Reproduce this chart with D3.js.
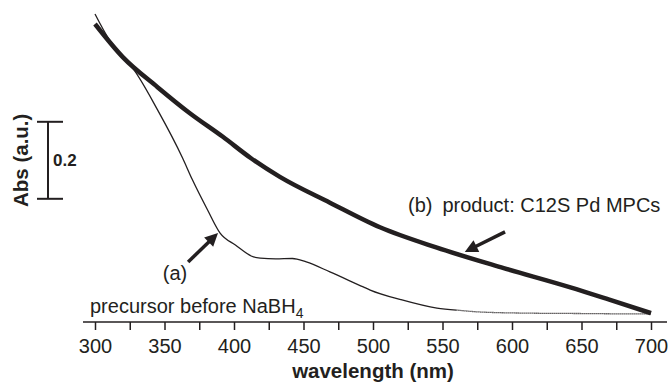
<!DOCTYPE html>
<html lang="en">
<head>
<meta charset="UTF-8">
<title>Abs spectra</title>
<script src="https://d3js.org/d3.v7.min.js"></script>
<style>
  body { margin: 0; background: #fff; }
  svg text { font-family: "Liberation Sans", Arial, Helvetica, sans-serif; fill: #231f20; }
</style>
</head>
<body>
<div id="chart"></div>
<script>
// (a) precursor before NaBH4 - thin trace
var waveA = [300, 310, 320, 327, 345, 363, 370, 381, 390, 401, 414, 419, 430, 442, 452, 469, 493, 498, 520, 546, 560, 577, 611, 650, 690, 700];
var absA  = [0.800, 0.735, 0.690, 0.660, 0.551, 0.426, 0.370, 0.291, 0.231, 0.200, 0.169, 0.166, 0.164, 0.165, 0.156, 0.130, 0.091, 0.083, 0.058, 0.036, 0.031, 0.026, 0.023, 0.022, 0.021, 0.021];
// (b) product C12S Pd MPCs - thick trace
var waveB = [300, 320, 345, 368, 392, 412, 433, 469, 505, 546, 594, 642, 670, 700];
var absB  = [0.774, 0.688, 0.610, 0.543, 0.481, 0.426, 0.377, 0.310, 0.246, 0.193, 0.140, 0.090, 0.058, 0.023];
var xTicks = [300, 325, 350, 375, 400, 425, 450, 475, 500, 525, 550, 575, 600, 625, 650, 675, 700];
var scaleBar = [0.32, 0.52];   // 0.2 a.u.
var dottedFrom = 560;          // thin trace looks dotted past here

var w = 670, h = 384;
var ink = '#231f20';

var svg = d3.select('#chart').append('svg')
    .attr('width', w)
    .attr('height', h);

var x = d3.scaleLinear().domain([300, 700]).range([95, 651]);
var y = d3.scaleLinear().domain([0, 0.8]).range([322, 14]);

// x axis
var xAxis = svg.append('g')
    .attr('transform', 'translate(0,' + y(0) + ')')
    .call(d3.axisBottom(x)
        .tickValues(xTicks)
        .tickFormat(function (d) { return d % 50 === 0 ? d : ''; })
        .tickSize(8)
        .tickPadding(9));
xAxis.select('.domain').remove();
xAxis.selectAll('.tick line').attr('stroke', ink).attr('stroke-width', 1.5);
xAxis.selectAll('.tick text')
    .attr('font-size', 20)
    .attr('font-family', '"Liberation Sans", Arial, sans-serif')
    .attr('fill', ink);
svg.append('line')
    .attr('x1', x.range()[0] - 12).attr('x2', x.range()[1] + 16)
    .attr('y1', y(0)).attr('y2', y(0))
    .attr('stroke', ink).attr('stroke-width', 1.5);

svg.append('text')
    .attr('x', (x.range()[0] + x.range()[1]) / 2)
    .attr('y', 378)
    .attr('text-anchor', 'middle')
    .attr('font-size', 20.5)
    .attr('font-weight', 'bold')
    .text('wavelength (nm)');

// y label + scale bar
svg.append('text')
    .attr('transform', 'translate(28,' + y(0.42) + ') rotate(-90)')
    .attr('text-anchor', 'middle')
    .attr('font-size', 20.5)
    .attr('font-weight', 'bold')
    .text('Abs (a.u.)');

var barX = 48;
svg.append('line')
    .attr('x1', barX).attr('x2', barX)
    .attr('y1', y(scaleBar[0])).attr('y2', y(scaleBar[1]))
    .attr('stroke', ink).attr('stroke-width', 2);
svg.selectAll('.cap')
    .data(scaleBar)
    .enter()
    .append('line')
    .attr('x1', barX - 11).attr('x2', barX + 15)
    .attr('y1', function (d) { return y(d); })
    .attr('y2', function (d) { return y(d); })
    .attr('stroke', ink).attr('stroke-width', 2);
svg.append('text')
    .attr('x', barX + 5)
    .attr('y', (y(scaleBar[0]) + y(scaleBar[1])) / 2 + 6)
    .attr('font-size', 17)
    .attr('font-weight', 'bold')
    .text('0.2');

// traces
var line = d3.line()
    .x(function (d) { return x(d[0]); })
    .y(function (d) { return y(d[1]); })
    .curve(d3.curveMonotoneX);

var ptsA = d3.zip(waveA, absA);
var ptsB = d3.zip(waveB, absB);

svg.append('path')
    .datum(ptsA.filter(function (d) { return d[0] <= dottedFrom; }))
    .attr('d', line)
    .attr('fill', 'none').attr('stroke', ink).attr('stroke-width', 1.3);
svg.append('path')
    .datum(ptsA.filter(function (d) { return d[0] >= dottedFrom; }))
    .attr('d', line)
    .attr('fill', 'none').attr('stroke', ink).attr('stroke-width', 1.3)
    .attr('stroke-dasharray', '1.2,0.8');

svg.append('path')
    .datum(ptsB)
    .attr('d', line)
    .attr('fill', 'none').attr('stroke', ink).attr('stroke-width', 4.5)
    .attr('stroke-linejoin', 'round');

// arrows (tail -> tip, in data units)
var arrows = [
    [[367, 0.156], [388.5, 0.231]],
    [[595, 0.234], [566, 0.182]]
];
arrows.forEach(function (a) {
    var x0 = x(a[0][0]), y0 = y(a[0][1]), x1 = x(a[1][0]), y1 = y(a[1][1]);
    var ang = Math.atan2(y1 - y0, x1 - x0);
    var hl = 13, hw = 6.5;
    var bx = x1 - hl * Math.cos(ang), by = y1 - hl * Math.sin(ang);
    svg.append('line')
        .attr('x1', x0).attr('y1', y0).attr('x2', bx + 2 * Math.cos(ang)).attr('y2', by + 2 * Math.sin(ang))
        .attr('stroke', ink).attr('stroke-width', 3.5);
    svg.append('path')
        .attr('d', 'M' + x1 + ',' + y1 +
            'L' + (bx + hw * Math.sin(ang)) + ',' + (by - hw * Math.cos(ang)) +
            'L' + (bx - hw * Math.sin(ang)) + ',' + (by + hw * Math.cos(ang)) + 'Z')
        .attr('fill', ink);
});

// annotations
svg.append('text')
    .attr('x', x(357.6)).attr('y', y(0.109))
    .attr('text-anchor', 'middle')
    .attr('font-size', 20)
    .text('(a)');

svg.append('text')
    .attr('x', x(525.2)).attr('y', y(0.286))
    .attr('font-size', 20)
    .attr('xml:space', 'preserve')
    .text('(b)\u2002product: C12S Pd MPCs');

var pre = svg.append('text')
    .attr('x', x(296.4)).attr('y', y(0.023))
    .attr('font-size', 20)
    .text('precursor before NaBH');
pre.append('tspan')
    .attr('font-size', 14)
    .attr('dy', 5)
    .text('4');
</script>
</body>
</html>
